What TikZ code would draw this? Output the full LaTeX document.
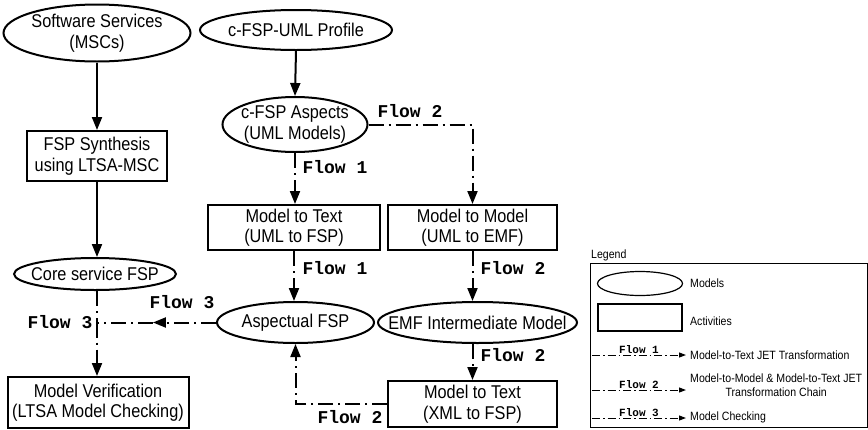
\documentclass[tikz,border=0pt]{standalone}
\usepackage{fontspec}
\setmainfont{Liberation Sans}[FakeStretch=0.88]
\newfontfamily\flowfont{Liberation Mono}
\usetikzlibrary{shapes.geometric, arrows.meta, positioning, calc}

\begin{document}
\begin{tikzpicture}[
      x=1pt, y=-1pt,
      model/.style={ellipse, draw, line width=2pt, inner sep=0pt},
      activity/.style={rectangle, draw, line width=2pt, inner sep=0pt, align=center, font=\fontsize{18.5}{20.5}\selectfont},
      mtext/.style={align=center, inner sep=0pt, font=\fontsize{18.5}{20.5}\selectfont},
      arrow/.style={-{Triangle[length=13pt, width=10pt]}, line width=2pt},
      flowline/.style={line width=2pt, dash pattern=on 15pt off 5pt on 2pt off 5pt},
      flowarrow/.style={flowline, -{Triangle[length=13pt, width=10pt]}},
      flowlbl/.style={inner sep=0pt, font=\flowfont\bfseries\fontsize{18}{18}\selectfont},
      legtxt/.style={inner sep=0pt, font=\fontsize{12}{14}\selectfont},
      leglbl/.style={inner sep=1pt, font=\flowfont\bfseries\fontsize{11}{11}\selectfont},
      legflow/.style={line width=1pt, dash pattern=on 8pt off 3pt on 1.5pt off 3pt, -{Triangle[length=7pt, width=5pt]}}
    ]
    \useasboundingbox (0,0) rectangle (868,429);

    % left column
    \node[model, minimum width=187, minimum height=57, label={[mtext]center:Software Services\\(MSCs)}] (soft) at (97,33) {};
    \node[activity, minimum width=140, minimum height=50] (synth) at (97,156) {FSP Synthesis\\using LTSA-MSC};
    \node[model, minimum width=162, minimum height=32, label={[mtext]center:Core service FSP}] (core) at (95,274) {};
    \node[activity, minimum width=181, minimum height=51] (verif) at (98,402.5) {Model Verification\\(LTSA Model Checking)};

    % aspect column
    \node[model, minimum width=192, minimum height=40, label={[mtext]center:c-FSP-UML Profile}] (profile) at (296,30) {};
    \node[model, minimum width=145, minimum height=55, label={[mtext]center:c-FSP Aspects\\(UML Models)}] (aspects) at (295,124.5) {};
    \node[activity, minimum width=172, minimum height=45] (m2t) at (294,227.5) {Model to Text\\(UML to FSP)};
    \node[model, minimum width=157, minimum height=41, label={[mtext]center:Aspectual FSP}] (aspectual) at (295.5,322.5) {};

    % EMF column
    \node[activity, minimum width=169, minimum height=45] (m2m) at (472.5,227.5) {Model to Model\\(UML to EMF)};
    \node[model, minimum width=199, minimum height=41, label={[mtext]center:EMF Intermediate Model}] (emf) at (477.5,322.5) {};
    \node[activity, minimum width=169, minimum height=46] (xml) at (472.5,404) {Model to Text\\(XML to FSP)};

    \coordinate (j3) at (synth.south |- aspectual.west);
    \coordinate (m3) at ($(j3)!0.47!(aspectual.west)$);

    \draw[arrow] (soft.south) -- (synth.north);
    \draw[arrow] (synth.south) -- (synth.south |- core.north);
    \draw[flowline] (synth.south |- core.south) -- (j3);
    \draw[flowarrow] (aspectual.west) -- (m3);
    \draw[flowline] (m3) -- (j3);
    \draw[flowarrow] (j3) -- (j3 |- verif.north);

    \draw[arrow] (profile.south) -- (aspects.north);
    \draw[flowarrow] (aspects.south) -- (aspects.south |- m2t.north);
    \draw[flowarrow] (m2t.south) -- (m2t.south |- aspectual.north);
    \draw[flowarrow] (aspects.east) -| (m2m.north);
    \draw[flowarrow] (m2m.south) -- (m2m.south |- emf.north);
    \draw[flowarrow] (m2m.south |- emf.south) -- (xml.north);
    \draw[flowarrow] (xml.west) -| (aspectual.south);

    \node[flowlbl] (f1a) at (335,167) {Flow 1};
    \node[flowlbl] (f2a) at (410,111) {Flow 2};
    \node[flowlbl] (f1b) at (335,268) {Flow 1};
    \node[flowlbl] (f2b) at (513,268) {Flow 2};
    \node[flowlbl] (f2c) at (513,355) {Flow 2};
    \node[flowlbl] (f2d) at (350,417) {Flow 2};
    \node[flowlbl] (f3a) at (182,302) {Flow 3};
    \node[flowlbl] (f3b) at (60,322) {Flow 3};

    % legend
    \node[draw, line width=1pt, minimum width=277, minimum height=164, inner sep=0pt] (legbox) at (728.5,345) {};
    \node[legtxt, anchor=south west, inner sep=1.5pt] (legtitle) at (legbox.north west) {Legend};
    \node[model, line width=1.2pt, minimum width=85, minimum height=24] (legmod) at (640,283.5) {};
    \node[draw, line width=1.2pt, minimum width=84, minimum height=27, inner sep=0pt] (legact) at (640,317.5) {};
    \node[legtxt, anchor=west] (legmodtxt) at (690,283) {Models};
    \node[legtxt, anchor=west] (legacttxt) at (690,321) {Activities};

    \coordinate (l1s) at (592,355);
    \coordinate (l1e) at (686,355);
    \coordinate (l2s) at (592,390);
    \coordinate (l2e) at (686,390);
    \coordinate (l3s) at (592,418);
    \coordinate (l3e) at (686,418);
    \draw[legflow] (l1s) -- (l1e) node[leglbl, midway, above] (lf1) {Flow 1};
    \draw[legflow] (l2s) -- (l2e) node[leglbl, midway, above] (lf2) {Flow 2};
    \draw[legflow] (l3s) -- (l3e) node[leglbl, midway, above] (lf3) {Flow 3};
    \node[legtxt, anchor=west] (l1txt) at (690,355) {Model-to-Text JET Transformation};
    \node[legtxt, anchor=west, align=center] (l2txt) at (690,385) {Model-to-Model \& Model-to-Text JET\\Transformation Chain};
    \node[legtxt, anchor=west] (l3txt) at (690,417) {Model Checking};
  \end{tikzpicture}
\end{document}
